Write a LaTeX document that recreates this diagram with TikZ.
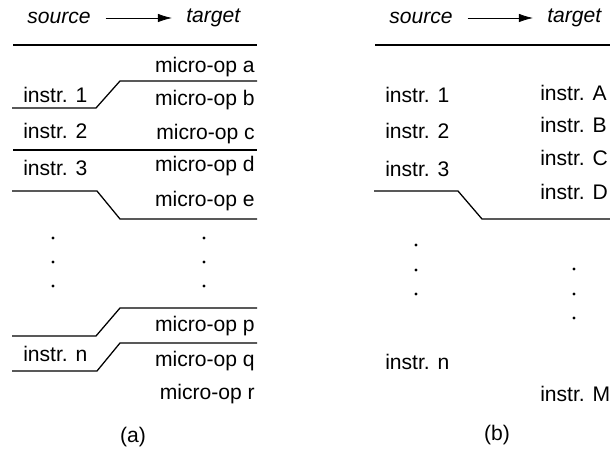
\documentclass[tikz,border=0pt]{standalone}
\usepackage{fontspec}
\setmainfont{Liberation Sans}
\usetikzlibrary{arrows.meta}

\begin{document}
\begin{tikzpicture}[x=0.025cm, y=-0.025cm, >={Latex[length=10pt,width=6pt]},
    every node/.style={font=\fontsize{15}{18}\selectfont, inner sep=0pt},
    head/.style={font=\fontsize{15}{18}\selectfont\itshape},
    rule/.style={line width=0.9pt},
    map/.style={->, line width=0.5pt, shorten <=10.5pt, shorten >=10pt}]
    \useasboundingbox (0,0) rectangle (610,451);

    % Panel (a): header
    \node[head, anchor=west] (srcA) at (27,18) {source};
    \node[head, anchor=west] (tgtA) at (186,18) {target};
    \draw[map] (srcA) -- (tgtA);

    % Panel (a): boundaries
    \draw[rule] (13,45) -- (257,45);
    \draw[rule] (12,108) -- (96,108) -- (120,81) -- (257,81);
    \draw[rule] (13,150) -- (257,150);
    \draw[rule] (12,191) -- (97,191) -- (120,219) -- (257,219);
    \draw[rule] (12,336) -- (96,336) -- (120,308) -- (257,308);
    \draw[rule] (12,371) -- (97,371) -- (120,343) -- (257,343);

    % Panel (a): source instructions
    \node[anchor=west] (i1a) at (23,95) {instr. 1};
    \node[anchor=west] (i2a) at (23,131) {instr. 2};
    \node[anchor=west] (i3a) at (23,168) {instr. 3};
    \node[anchor=west] (ina) at (23,354) {instr. n};

    % Panel (a): target micro-ops
    \node[anchor=east] (ua) at (255,67) {micro-op a};
    \node[anchor=east] (ub) at (255,100) {micro-op b};
    \node[anchor=east] (uc) at (255,134) {micro-op c};
    \node[anchor=east] (ud) at (255,166) {micro-op d};
    \node[anchor=east] (ue) at (255,201) {micro-op e};
    \node[anchor=east] (up) at (255,326) {micro-op p};
    \node[anchor=east] (uq) at (255,361) {micro-op q};
    \node[anchor=east] (ur) at (255,394) {micro-op r};

    % Panel (a): ellipsis
    \foreach \y in {238,262,286} {
        \fill (53,\y) circle (1.1pt);
        \fill (204,\y) circle (1.1pt);
    }

    \node (capA) at (133,437) {(a)};

    % Panel (b): header
    \node[head, anchor=west] (srcB) at (389,18) {source};
    \node[head, anchor=west] (tgtB) at (547,18) {target};
    \draw[map] (srcB) -- (tgtB);

    % Panel (b): boundaries
    \draw[rule] (375,45) -- (610,45);
    \draw[rule] (374,191) -- (458,191) -- (482,219) -- (610,219);

    % Panel (b): source instructions
    \node[anchor=west] (i1b) at (385,95) {instr. 1};
    \node[anchor=west] (i2b) at (385,131) {instr. 2};
    \node[anchor=west] (i3b) at (385,169) {instr. 3};
    \node[anchor=west] (inb) at (385,362) {instr. n};

    % Panel (b): target instructions
    \node[anchor=west] (tA) at (540,93) {instr. A};
    \node[anchor=west] (tB) at (540,125) {instr. B};
    \node[anchor=west] (tC) at (540,158) {instr. C};
    \node[anchor=west] (tD) at (540,192) {instr. D};
    \node[anchor=west] (tM) at (540,394) {instr. M};

    % Panel (b): ellipsis
    \foreach \y in {245,270,294} {
        \fill (416,\y) circle (1.1pt);
        \fill (574,\y+24) circle (1.1pt);
    }

    \node (capB) at (497,435) {(b)};
\end{tikzpicture}
\end{document}
